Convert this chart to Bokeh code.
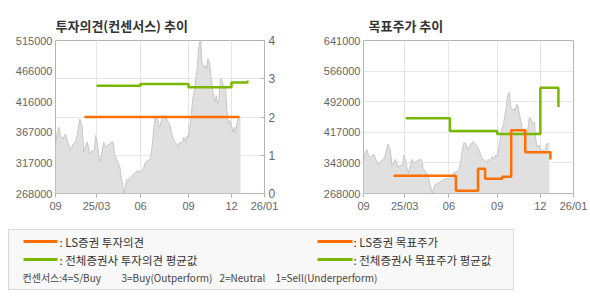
from bokeh.plotting import figure
from bokeh.models import Range1d, LinearAxis, FixedTicker, Grid
from bokeh.layouts import column, row
from bokeh.embed import file_html
from bokeh.resources import INLINE
from bokeh.core.properties import value

# ---------------- data ----------------
# trading-day index of the month labels
tick_days = [0, 41, 85, 133, 176, 209]
tick_labels = ["09", "25/03", "06", "09", "12", "26/01"]

# daily close, trading-day index
days = [0, 1.7, 3.3, 5, 7.3, 10, 12.3, 15, 17.7, 20, 21.7, 24.3, 26.7, 28.3, 30, 31.7,
        34.3, 36.7, 39, 40, 41.7, 43.3, 45, 46.7, 48.3, 50, 51.7, 54.3, 56, 57.7, 59.3,
        61.7, 64.3, 66, 67.7, 68.7, 71, 73.3, 76.7, 80, 82.3, 85, 87.7, 90, 92.3, 95,
        96.7, 98.3, 99.7, 101.7, 104, 106.7, 109.3, 111.7, 114, 116, 117.7, 119.3, 121,
        122.7, 124, 126, 128.3, 130, 131.7, 132.7, 134, 135.7, 137.3, 139.3, 140.7, 142,
        143, 144.3, 145.3, 146.3, 148.3, 150, 151, 152.3, 154, 155.3, 156.7, 158.3, 159.3,
        160.7, 162, 163.3, 165, 166.7, 168.3, 170, 171.3, 172.7, 174.3, 176, 177.3, 178.7,
        180, 181.3, 182.7, 184, 185]
price = [345500, 367000, 375000, 361600, 356000, 364000, 351000, 337000, 348000, 351000,
         361600, 388600, 375000, 334700, 342700, 351000, 332000, 337000, 337000, 361600,
         351000, 329300, 318500, 337000, 351000, 342700, 345500, 348000, 351000, 351000,
         329300, 321300, 310500, 291700, 278200, 268500, 289000, 291700, 297000, 302400,
         305000, 302400, 307800, 318500, 321300, 324000, 345500, 372400, 391000, 391000,
         375000, 388600, 394000, 385900, 380500, 367000, 356000, 351000, 348000, 342700,
         351000, 348000, 359000, 351000, 361600, 359000, 372400, 394000, 421000, 437000,
         458500, 474600, 501500, 512500, 515000, 480000, 472000, 474600, 469300, 485500,
         480000, 458500, 442400, 421000, 415500, 426200, 413000, 418000, 453200, 450500,
         437000, 442400, 404700, 380500, 386000, 377800, 367000, 375000, 364000, 380500,
         388600, 391000, 391000]

# investment opinion (1..4)
op_ls_days = [29, 184]
op_ls = [2, 2]
op_avg_days = [41, 85, 133, 176, 192, 193]
op_avg = [2.82, 2.86, 2.78, 2.90, 2.93, 2.93]

# target price
tp_ls_days = [30, 92, 114, 121, 138, 147, 161, 186]
tp_ls = [311500, 274500, 328400, 304200, 309000, 421900, 368700, 351100]
tp_avg_days = [42, 86, 133, 176, 194]
tp_avg = [451600, 420500, 413000, 525800, 479100]

left_ticks = [268000, 317400, 366800, 416200, 465600, 515000]
left_labels = ["268000", "317000", "367000", "416000", "466000", "515000"]
op_ticks = [0, 1, 2, 3, 4]
tp_ticks = [268000, 342600, 417200, 491800, 566400, 641000]
tp_labels = ["268000", "343000", "417000", "492000", "566000", "641000"]

# ---------------- styles ----------------
ORANGE = "#ff6f00"
GREEN = "#7ab800"
GRID = "#e6e6e6"
FRAME = "#b4b4b4"
LABEL = "#666666"
NUMFONT = "Liberation Sans"
KFONT = "Noto Sans CJK KR"


def base(title, width, bl, br, y0, y1):
    p = figure(width=width, height=220, x_range=Range1d(0, 209), y_range=Range1d(y0, y1),
               output_backend="svg", toolbar_location=None, title=title,
               min_border_left=bl, min_border_right=br, min_border_top=40,
               min_border_bottom=27, background_fill_color="white",
               border_fill_color="white", outline_line_color=FRAME)
    p.title.text_font = KFONT
    p.title.text_font_size = "13px"
    p.title.text_font_style = "bold"
    p.title.text_color = "#333333"
    p.title.align = "left"
    p.title.offset = 0
    p.title.standoff = 12
    p.xaxis.ticker = FixedTicker(ticks=tick_days)
    p.xaxis.major_label_overrides = {t: l for t, l in zip(tick_days, tick_labels)}
    p.xgrid.ticker = FixedTicker(ticks=tick_days)
    p.xgrid.grid_line_color = GRID
    for ax in [p.xaxis[0], p.yaxis[0]]:
        ax.axis_line_color = None
        ax.minor_tick_line_color = None
        ax.major_label_text_font = NUMFONT
        ax.major_label_text_font_size = "11px"
        ax.major_label_text_color = LABEL
    p.xaxis.major_tick_out = 4
    p.xaxis.major_tick_in = 0
    p.xaxis.major_tick_line_color = FRAME
    p.xaxis.major_label_standoff = 2
    p.yaxis.major_tick_out = 0
    p.yaxis.major_tick_in = 0
    p.yaxis.major_label_standoff = 3
    p.varea(x=days, y1=y0, y2=price, fill_color="#e0e0e0")
    p.line(days, price, line_color="#c6c6c6", line_width=1)
    return p


# ---------- left: investment opinion ----------
p1 = base("투자의견(컨센서스) 추이", 295, 55, 31, 268000, 515000)
p1.yaxis.ticker = FixedTicker(ticks=left_ticks)
p1.yaxis.major_label_overrides = {t: l for t, l in zip(left_ticks, left_labels)}
p1.ygrid.visible = False
p1.extra_y_ranges = {"op": Range1d(0, 4)}
rax = LinearAxis(y_range_name="op", ticker=FixedTicker(ticks=op_ticks),
                 axis_line_color=None, major_tick_in=4, major_tick_out=0,
                 major_tick_line_color=FRAME, minor_tick_line_color=None,
                 major_label_text_font=NUMFONT, major_label_text_font_size="12px",
                 major_label_text_color=LABEL, major_label_standoff=4)
p1.add_layout(rax, "right")
p1.add_layout(Grid(dimension=1, ticker=FixedTicker(ticks=op_ticks), y_range_name="op",
                   grid_line_color=GRID))
p1.line(op_ls_days, op_ls, y_range_name="op", line_color=ORANGE, line_width=2.5)
p1.step(op_avg_days, op_avg, mode="after", y_range_name="op", line_color=GREEN,
        line_width=2.5)

# ---------- right: target price ----------
p2 = base("목표주가 추이", 295, 68, 17, 268000, 641000)
p2.title.offset = 5
p2.yaxis.ticker = FixedTicker(ticks=tp_ticks)
p2.yaxis.major_label_overrides = {t: l for t, l in zip(tp_ticks, tp_labels)}
p2.ygrid.ticker = FixedTicker(ticks=tp_ticks)
p2.ygrid.grid_line_color = GRID
p2.step(tp_avg_days, tp_avg, mode="after", line_color=GREEN, line_width=2.5)
p2.step(tp_ls_days, tp_ls, mode="after", line_color=ORANGE, line_width=2.5)

# ---------- legend box ----------
legend_labels = [": LS증권 투자의견", ": 전체증권사 투자의견 평균값",
                 ": LS증권 목표주가", ": 전체증권사 목표주가 평균값"]
legend_colors = [ORANGE, GREEN, ORANGE, GREEN]
consensus_parts = ["컨센서스:4=S/Buy", "3=Buy(Outperform)", "2=Neutral", "1=Sell(Underperform)"]

p3 = figure(width=590, height=80, x_range=Range1d(0, 590), y_range=Range1d(80, 0),
            output_backend="svg", toolbar_location=None, x_axis_type=None,
            y_axis_type=None, min_border=0, outline_line_color=None,
            background_fill_color="white", border_fill_color="white")
p3.grid.visible = False
p3.quad(left=8, right=513, top=9, bottom=69, fill_color="#f8f8f8", line_color="#d9d9d9")
lx0 = [23, 23, 317, 317]
lx1 = [57, 57, 352, 352]
ly = [21, 39, 21, 39]
p3.segment(x0=lx0, y0=ly, x1=lx1, y1=ly, line_color=legend_colors, line_width=3)
p3.text(x=[59, 59, 353, 353], y=ly, text=legend_labels, text_baseline="middle",
        text_font=value(KFONT), text_font_size="11.5px", text_color="#333333")
p3.text(x=[22, 121, 219, 275], y=[57] * 4, text=consensus_parts, text_baseline="middle",
        text_font=value(KFONT), text_font_size="10px", text_color="#444444")

layout = column(row(p1, p2), p3)
open("out.html", "w").write(file_html(layout, INLINE))
